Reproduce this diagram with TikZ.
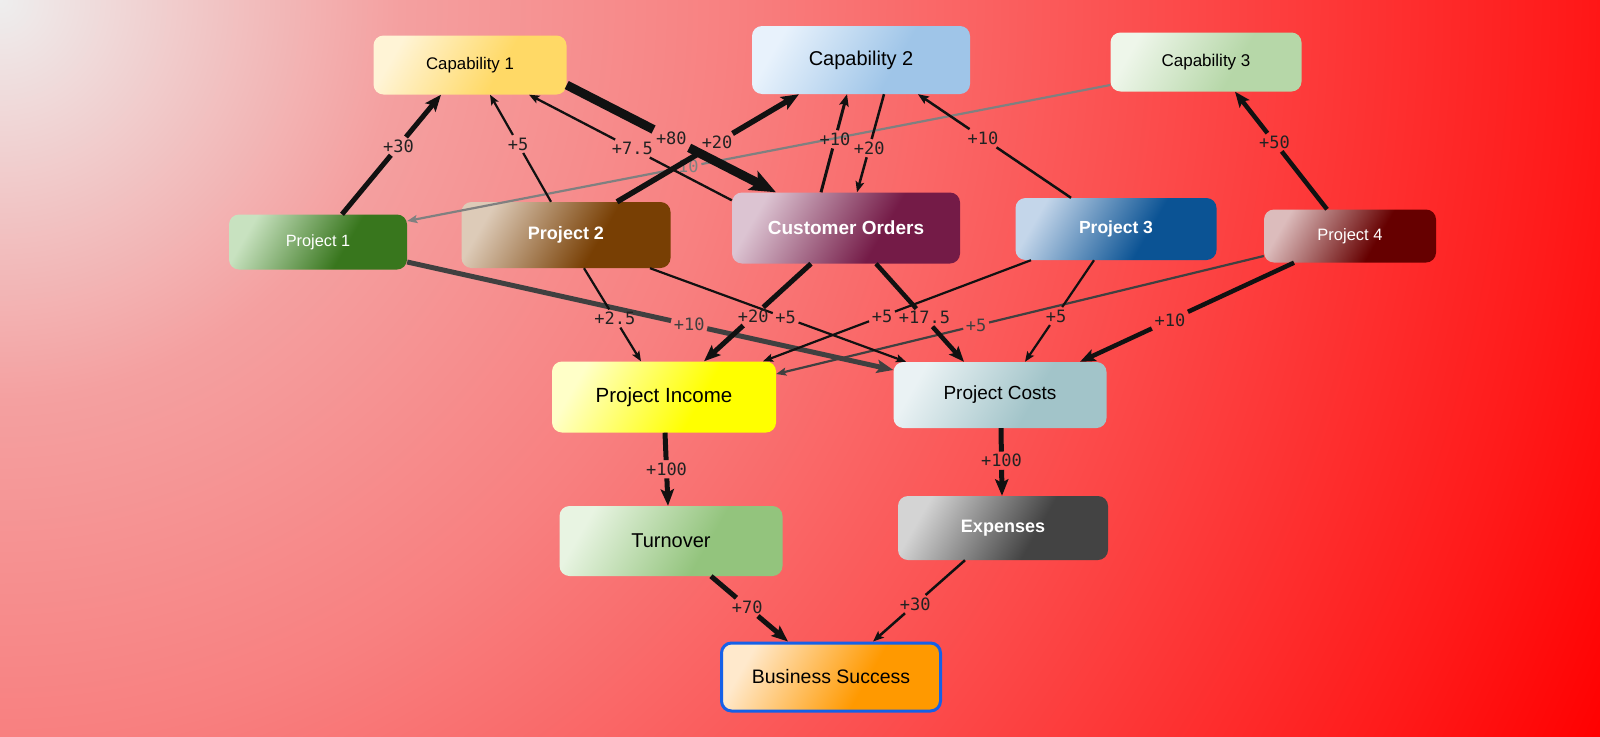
\documentclass[tikz,border=0pt]{standalone}
\usepackage{fontspec}
\setmainfont{Liberation Sans}
\newfontfamily\monof{DejaVu Sans Mono}
\usetikzlibrary{arrows.meta}

\definecolor{bg0}{RGB}{238,238,238}
\definecolor{bg1}{RGB}{244,160,160}
\definecolor{bg2}{RGB}{248,128,128}
\definecolor{bg3}{RGB}{255,26,26}
\definecolor{bg4}{RGB}{255,0,0}
\definecolor{edgek}{RGB}{17,17,17}
\definecolor{edgeg}{RGB}{128,128,128}
\definecolor{edged}{RGB}{64,64,64}
\definecolor{lblk}{RGB}{34,34,34}
\definecolor{bsborder}{RGB}{21,96,232}
\colorlet{ncA}{white}
\colorlet{ncB}{black}
\pgfdeclarehorizontalshading[ncA,ncB]{nodeshade}{100bp}{color(0bp)=(ncA); color(25bp)=(ncA); color(60bp)=(ncB); color(100bp)=(ncB)}
\pgfdeclareradialshading{bgshade}{\pgfpointorigin}{color(0bp)=(bg0); color(5.56bp)=(bg1); color(10.2bp)=(bg2); color(21.8bp)=(bg3); color(24.5bp)=(bg4); color(50bp)=(bg4)}

\newcommand\fsz[1]{\fontsize{#1}{#1}\selectfont}
\newcommand\lnk[7]{%
  \path #2 -- node[lbl, pos=#5, text=#7] (#4) {#6} #3;
  \draw[#1] #2 -- (#4);
  \draw[#1, arr] (#4) -- #3;
}

\tikzset{
  box/.style n args={4}{rounded corners=10pt, inner sep=0pt, minimum width=#1, minimum height=#2,
     shade, shading=nodeshade, shading angle=-30,
     /utils/exec={\colorlet{ncA}{#3}\colorlet{ncB}{#4}}},
  lbl/.style={font=\monof\fsz{17}, inner sep=2.5pt},
  arr/.style={-{Stealth[length=5pt 2.3, width'=0pt 0.8, inset'=0pt 0.2]}},
  ek/.style={draw=edgek, line width=#1},
  eg/.style={draw=edgeg, line width=#1},
  ed/.style={draw=edged, line width=#1},
}

\begin{document}
\begin{tikzpicture}[x=1pt, y=-1pt]
\begin{scope}
  \clip (0,0) rectangle (1600,736);
  \shade[shading=bgshade] (-1800,-1800) rectangle (1800,1800);
\end{scope}
\useasboundingbox (0,0) rectangle (1600,736);

% nodes
\node[box={193}{59}{rgb,255:red,255;green,244;blue,214}{rgb,255:red,255;green,217;blue,102}, text=black, font=\fsz{16.8}] (c1) at (470,65) {Capability 1};
\node[box={218}{68}{rgb,255:red,232;green,242;blue,252}{rgb,255:red,159;green,197;blue,232}, text=black, font=\fsz{20}] (c2) at (861,60) {Capability 2};
\node[box={191}{59}{rgb,255:red,238;green,246;blue,234}{rgb,255:red,182;green,215;blue,168}, text=black, font=\fsz{17}] (c3) at (1206,62) {Capability 3};
\node[box={178}{55}{rgb,255:red,200;green,226;blue,192}{rgb,255:red,56;green,118;blue,29}, text=white, font=\fsz{16.3}] (p1) at (318,242) {Project 1};
\node[box={209}{66}{rgb,255:red,221;green,203;blue,184}{rgb,255:red,120;green,63;blue,4}, text=white, font=\bfseries\fsz{18}] (p2) at (566,235) {Project 2};
\node[box={228}{71}{rgb,255:red,220;green,196;blue,210}{rgb,255:red,116;green,27;blue,71}, text=white, font=\bfseries\fsz{19}] (co) at (846,228) {Customer Orders};
\node[box={201}{62}{rgb,255:red,196;green,214;blue,234}{rgb,255:red,11;green,83;blue,148}, text=white, font=\bfseries\fsz{17.5}] (p3) at (1116,229) {Project 3};
\node[box={172}{53}{rgb,255:red,220;green,188;blue,188}{rgb,255:red,102;green,0;blue,0}, text=white, font=\fsz{16.5}] (p4) at (1350,236) {Project 4};
\node[box={224}{71}{rgb,255:red,255;green,255;blue,200}{rgb,255:red,255;green,255;blue,0}, text=black, font=\fsz{20.5}] (pi) at (664,397) {Project Income};
\node[box={213}{66}{rgb,255:red,234;green,242;blue,244}{rgb,255:red,162;green,196;blue,201}, text=black, font=\fsz{19}] (pc) at (1000,395) {Project Costs};
\node[box={223}{70}{rgb,255:red,232;green,244;blue,226}{rgb,255:red,147;green,196;blue,125}, text=black, font=\fsz{20}] (to) at (671,541) {Turnover};
\node[box={210}{64}{rgb,255:red,212;green,212;blue,212}{rgb,255:red,67;green,67;blue,67}, text=white, font=\bfseries\fsz{18}] (ex) at (1003,528) {Expenses};
\node[box={219}{68}{rgb,255:red,255;green,233;blue,204}{rgb,255:red,255;green,153;blue,0}, text=black, font=\fsz{19.5}, draw=bsborder, line width=3pt] (bs) at (831,677) {Business Success};

% connectors
\lnk{eg={2.2pt}}{([yshift=-23pt]c3.west)}{([yshift=21pt]p1.east)}{l10}{0.6}{10}{edgeg}
\lnk{ed={5pt}}{([yshift=-20pt]p1.east)}{([yshift=25pt]pc.west)}{l11}{0.58}{+10}{edged}
\lnk{ed={2.2pt}}{([yshift=-20pt]p4.west)}{([yshift=23pt]pi.east)}{l18}{0.59}{+5}{edged}
\lnk{ek={5pt}}{([xshift=24pt]p1.north)}{([xshift=-29pt]c1.south)}{l1}{0.57}{+30}{lblk}
\lnk{ek={2.2pt}}{([xshift=-15pt]p2.north)}{([xshift=20pt]c1.south)}{l2}{0.54}{+5}{lblk}
\lnk{ek={2.3pt}}{([yshift=-8pt]co.north west)}{([xshift=59pt]c1.south)}{l3}{0.49}{+7.5}{lblk}
\lnk{ek={9pt}}{([yshift=-20pt]c1.east)}{([xshift=-70pt]co.north)}{l4}{0.5}{+80}{lblk}
\lnk{ek={5.5pt}}{([xshift=51pt]p2.north)}{([xshift=-62pt]c2.south)}{l5}{0.55}{+20}{lblk}
\lnk{ek={3pt}}{([xshift=-25pt]co.north)}{([xshift=-14pt]c2.south)}{l6}{0.54}{+10}{lblk}
\lnk{ek={2.5pt}}{([xshift=23pt]c2.south)}{([xshift=11pt]co.north)}{l7}{0.55}{+20}{lblk}
\lnk{ek={2.5pt}}{([xshift=-45pt]p3.north)}{([xshift=57pt]c2.south)}{l8}{0.575}{+10}{lblk}
\lnk{ek={4.5pt}}{([xshift=-23pt]p4.north)}{([xshift=29pt]c3.south)}{l9}{0.57}{+50}{lblk}
\lnk{ek={2.2pt}}{([xshift=18pt]p2.south)}{([xshift=-23pt]pi.north)}{l12}{0.54}{+2.5}{lblk}
\lnk{ek={2.2pt}}{([xshift=84pt]p2.south)}{([xshift=-94pt]pc.north)}{l13}{0.53}{+5}{lblk}
\lnk{ek={5pt}}{([xshift=-35pt]co.south)}{([xshift=40pt]pi.north)}{l14}{0.54}{+20}{lblk}
\lnk{ek={4.5pt}}{([xshift=30pt]co.south)}{([xshift=-36pt]pc.north)}{l15}{0.55}{+17.5}{lblk}
\lnk{ek={2.2pt}}{([xshift=-85pt]p3.south)}{([xshift=99pt]pi.north)}{l16}{0.556}{+5}{lblk}
\lnk{ek={2.2pt}}{([xshift=-22pt]p3.south)}{([xshift=25pt]pc.north)}{l17}{0.55}{+5}{lblk}
\lnk{ek={4.5pt}}{([xshift=-56pt]p4.south)}{([xshift=80pt]pc.north)}{l19}{0.58}{+10}{lblk}
\lnk{ek={5pt}}{([xshift=1pt]pi.south)}{([xshift=-3pt]to.north)}{l20}{0.5}{+100}{lblk}
\lnk{ek={5pt}}{([xshift=1pt]pc.south)}{([xshift=-1pt]ex.north)}{l21}{0.48}{+100}{lblk}
\lnk{ek={5pt}}{([xshift=40pt]to.south)}{([xshift=-43pt]bs.north)}{l22}{0.47}{+70}{lblk}
\lnk{ek={2.5pt}}{([xshift=-38pt]ex.south)}{([xshift=42pt]bs.north)}{l23}{0.54}{+30}{lblk}
\end{tikzpicture}
\end{document}
